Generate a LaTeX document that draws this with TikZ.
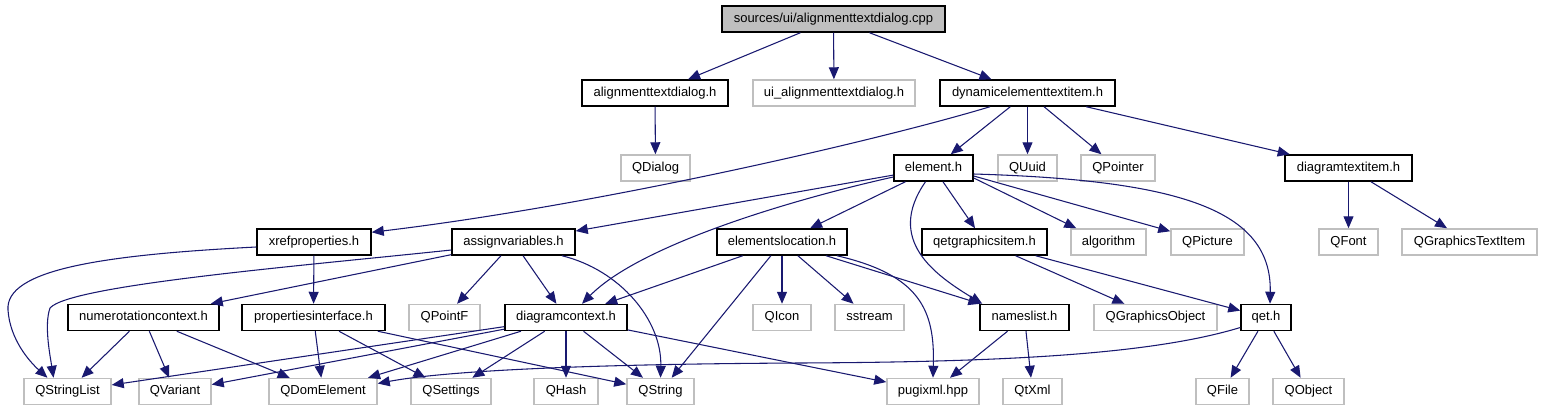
\documentclass[tikz,border=0pt]{standalone}
\usepackage{fontspec}
\setmainfont{Liberation Sans}
\usetikzlibrary{arrows.meta,calc}
\definecolor{edgec}{HTML}{191970}
\definecolor{extc}{HTML}{BFBFBF}
\definecolor{rootfill}{HTML}{BFBFBF}
\begin{document}
\begin{tikzpicture}[x=0.75pt,y=-0.75pt,
  every node/.style={font=\fontsize{9.75pt}{11pt}\selectfont, inner sep=0pt, minimum height=26*0.75pt, text height=7.2pt, text depth=2pt},
  hdr/.style={draw=black, line width=1.1pt, fill=white, minimum width=#1*0.75pt},
  ext/.style={draw=extc, line width=1.1pt, fill=white, minimum width=#1*0.75pt},
  rootbox/.style={draw=black, line width=1.1pt, fill=rootfill, minimum width=#1*0.75pt},
  dep/.style={draw=edgec, line width=0.8pt, -{Triangle[length=9pt,width=7.5pt]}}
]
\useasboundingbox (0,0) rectangle (1543,411);
% row 1
\node[rootbox=223] (root) at (833.5,19) {sources/ui/alignmenttextdialog.cpp};
% row 2
\node[hdr=146] (aldlg) at (655,93) {alignmenttextdialog.h};
\node[ext=162] (uidlg) at (834,93) {ui\_alignmenttextdialog.h};
\node[hdr=175] (dyn) at (1027.5,93) {dynamicelementtextitem.h};
% row 3
\node[ext=69] (qdialog) at (655.5,168) {QDialog};
\node[hdr=79] (element) at (933.5,168) {element.h};
\node[ext=59] (quuid) at (1027.5,168) {QUuid};
\node[ext=74] (qpointer) at (1118,168) {QPointer};
\node[hdr=127] (dti) at (1348.5,168) {diagramtextitem.h};
% row 4
\node[hdr=114] (xref) at (314,242) {xrefproperties.h};
\node[hdr=123] (assign) at (513.5,242) {assignvariables.h};
\node[hdr=130] (eloc) at (782,242) {elementslocation.h};
\node[hdr=125] (qgi) at (984.5,242) {qetgraphicsitem.h};
\node[ext=75] (algorithm) at (1108.5,242) {algorithm};
\node[ext=73] (qpicture) at (1207.5,242) {QPicture};
\node[ext=59] (qfont) at (1348.5,242) {QFont};
\node[ext=135] (qgti) at (1469.5,242) {QGraphicsTextItem};
% row 5
\node[hdr=151] (numctx) at (143.5,317.5) {numerotationcontext.h};
\node[hdr=143] (propif) at (313.5,317.5) {propertiesinterface.h};
\node[ext=71] (qpointf) at (444.5,317.5) {QPointF};
\node[hdr=122] (dctx) at (566,317.5) {diagramcontext.h};
\node[ext=58] (qicon) at (782,317.5) {QIcon};
\node[ext=69] (sstream) at (869.5,317.5) {sstream};
\node[hdr=89] (nameslist) at (1024.5,317.5) {nameslist.h};
\node[ext=123] (qgo) at (1155.5,317.5) {QGraphicsObject};
\node[hdr=50] (qet) at (1266,317.5) {qet.h};
% row 6
\node[ext=87] (qsl) at (67.5,391.5) {QStringList};
\node[ext=72] (qvariant) at (175,391.5) {QVariant};
\node[ext=108] (qdom) at (323,391.5) {QDomElement};
\node[ext=80] (qsettings) at (451,391.5) {QSettings};
\node[ext=64] (qhash) at (566,391.5) {QHash};
\node[ext=67] (qstring) at (660.5,391.5) {QString};
\node[ext=92] (pugi) at (933,391.5) {pugixml.hpp};
\node[ext=59] (qtxml) at (1032.5,391.5) {QtXml};
\node[ext=53] (qfile) at (1222.5,391.5) {QFile};
\node[ext=71] (qobject) at (1308.5,391.5) {QObject};

% edges from root
\draw[dep] (root) -- (aldlg);
\draw[dep] (root) -- (uidlg);
\draw[dep] (root) -- (dyn);
\draw[dep] (aldlg) -- (qdialog);
% dynamicelementtextitem.h
\draw[dep] ($(dyn.south)+(-37.5,0)$) .. controls (880,140) and (600,205) .. ($(xref.north east)+(0,4)$);
\draw[dep] (dyn) -- (element);
\draw[dep] (dyn) -- (quuid);
\draw[dep] (dyn) -- (qpointer);
\draw[dep] (dyn) -- (dti);
% element.h
\draw[dep] (element) -- (assign);
\draw[dep] ($(element.west)+(0,9)$) .. controls (790,200) and (640,245) .. ($(dctx.north)+(16,0)$);
\draw[dep] (element) -- (eloc);
\draw[dep] ($(element.south)+(-8,0)$) .. controls (885,240) and (935,275) .. ($(nameslist.north west)+(3,0)$);
\draw[dep] (element) -- (qgi);
\draw[dep] ($(element.east)+(0,10)$) -- ($(algorithm.north west)+(6,0)$);
\draw[dep] ($(element.east)+(0,8)$) -- ($(qpicture.north west)+(0,3)$);
\draw[dep] ($(element.east)+(0,6)$) .. controls (1180,180) and (1272,210) .. ($(qet.north)+(4,0)$);
% diagramtextitem.h
\draw[dep] (dti) -- (qfont);
\draw[dep] (dti) -- (qgti);
% xrefproperties.h
\draw[dep] ($(xref.west)+(0,5)$) .. controls (100,255) and (5,270) .. (8,310) .. controls (10,340) and (30,362) .. ($(qsl.north)+(-20,0)$);
\draw[dep] (xref) -- (propif);
% assignvariables.h
\draw[dep] ($(assign.west)+(0,8)$) .. controls (300,266) and (70,285) .. (50,308) .. controls (44,325) and (50,355) .. ($(qsl.north)+(-14,0)$);
\draw[dep] (assign) -- (numctx);
\draw[dep] (assign) -- (qpointf);
\draw[dep] (assign) -- (dctx);
\draw[dep] ($(assign.south)+(48.5,0)$) .. controls (620,270) and (662,320) .. (qstring.north);
% elementslocation.h
\draw[dep] (eloc) -- (dctx);
\draw[dep] (eloc) -- (qstring);
\draw[dep] (eloc) -- (qicon);
\draw[dep] (eloc) -- (sstream);
\draw[dep] (eloc) -- (nameslist);
\draw[dep] ($(eloc.south)+(55,0)$) .. controls (920,275) and (935,310) .. (pugi.north);
% qetgraphicsitem.h
\draw[dep] (qgi) -- (qgo);
\draw[dep] (qgi) -- (qet);
% numerotationcontext.h
\draw[dep] (numctx) -- (qsl);
\draw[dep] (numctx) -- (qvariant);
\draw[dep] (numctx) -- (qdom);
% propertiesinterface.h
\draw[dep] (propif) -- (qdom);
\draw[dep] (propif) -- (qsettings);
\draw[dep] (propif) -- (qstring);
% diagramcontext.h
\draw[dep] (dctx) -- (qsl);
\draw[dep] (dctx) -- (qvariant);
\draw[dep] (dctx) -- (qdom);
\draw[dep] (dctx) -- (qsettings);
\draw[dep] (dctx) -- (qhash);
\draw[dep] (dctx) -- (qstring);
\draw[dep] (dctx) -- (pugi);
% nameslist.h
\draw[dep] (nameslist) -- (pugi);
\draw[dep] (nameslist) -- (qtxml);
% qet.h
\draw[dep] ($(qet.west)+(0,10)$) .. controls (1150,355) and (1000,362) .. (800,363) .. controls (600,364) and (450,370) .. ($(qdom.east)+(0,-8)$);
\draw[dep] (qet) -- (qfile);
\draw[dep] (qet) -- (qobject);
\end{tikzpicture}
\end{document}
